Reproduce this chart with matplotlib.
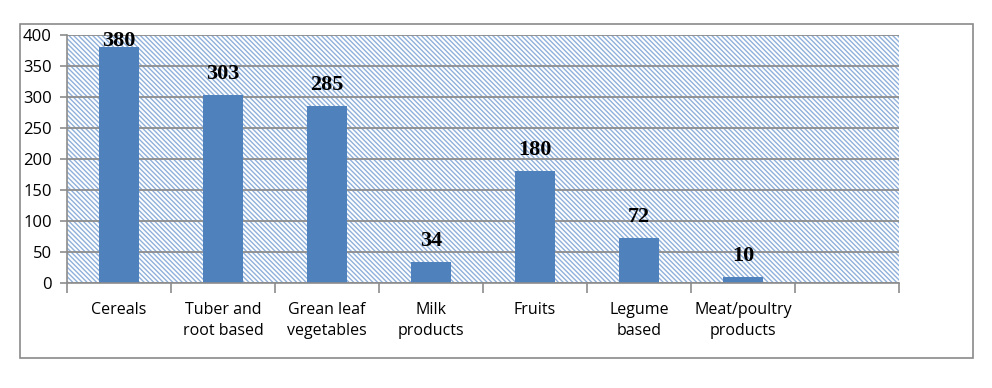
import matplotlib
matplotlib.use("Agg")
import matplotlib.pyplot as plt
from matplotlib.patches import Rectangle

categories = ["Cereals", "Tuber and\nroot based", "Grean leaf\nvegetables", "Milk\nproducts",
              "Fruits", "Legume\nbased", "Meat/poultry\nproducts"]
values = [380, 303, 285, 34, 180, 72, 10]
yticks = [0, 50, 100, 150, 200, 250, 300, 350, 400]

plt.rcParams['hatch.linewidth'] = 1.0

fig = plt.figure(figsize=(9.92, 3.88), dpi=100)
ax = fig.add_axes([67/992, 1-283/388, (899-67)/992, (283-35)/388])

# outer chart border
fig.patches.append(Rectangle((20/992, 1-358/388), (973-20)/992, (358-24)/388,
                             transform=fig.transFigure, fill=False,
                             edgecolor='#8a8a8a', linewidth=1.2, zorder=0))

# hatched plot area
ax.add_patch(Rectangle((0, 0), 1, 1, transform=ax.transAxes, facecolor='white',
                       edgecolor='#8FB0DA', linewidth=0, hatch='\\' * 7, zorder=0))

x = list(range(len(categories)))
ax.bar(x, values, width=0.39, color='#4F81BD', zorder=3)

for xi, v in zip(x, values):
    ax.text(xi, min(v + 34, 391), str(v), ha='center', va='center',
            fontsize=16, fontweight='bold', family='Liberation Serif', zorder=4)

ax.set_xlim(-0.5, 7.5)
ax.set_ylim(0, 400)
ax.set_yticks(yticks)
ax.set_yticklabels([str(t) for t in yticks], fontsize=12, family='Open Sans')
ax.yaxis.grid(True, color='#8c8c8c', linewidth=1.3, zorder=1)
ax.set_axisbelow(True)

ax.set_xticks(x)
ax.set_xticklabels(categories, fontsize=11.5, family='Open Sans', linespacing=1.4)
ax.set_xticks([i - 0.5 for i in range(9)], minor=True)
ax.tick_params(axis='x', which='major', length=0, pad=14)
ax.tick_params(axis='x', which='minor', length=7, color='#8c8c8c', width=1.2)
ax.tick_params(axis='y', length=5, color='#8c8c8c', width=1.2, pad=6)

for s in ['top', 'right']:
    ax.spines[s].set_visible(False)
for s in ['left', 'bottom']:
    ax.spines[s].set_color('#8c8c8c')
    ax.spines[s].set_linewidth(1.2)
    ax.spines[s].set_zorder(5)

fig.savefig("out.png", dpi=100)
